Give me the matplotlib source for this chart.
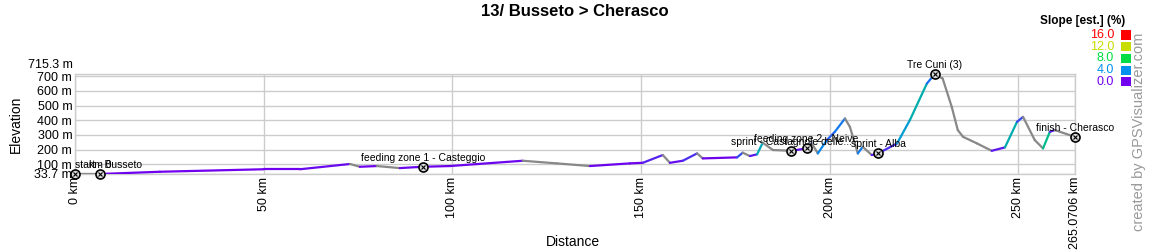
import matplotlib
matplotlib.use("Agg")
import matplotlib.pyplot as plt
from matplotlib.collections import LineCollection
from matplotlib.colors import LinearSegmentedColormap
from matplotlib.patches import Rectangle
import matplotlib.transforms as mtransforms
import numpy as np

plt.rcParams["font.family"] = ["Liberation Sans", "DejaVu Sans"]

# ---------- Data ----------
dist_km = [0, 6.6, 22.5, 50, 59.6, 72.9, 75.5, 80, 86.1, 92.2, 99.4, 118.7,
           127.7, 136.5, 147.1, 150.5, 155.8, 157.7, 161.1, 164.9, 166.4,
           175.5, 177, 178.9, 180.8, 182.3, 185, 189.9, 193.9, 195.3, 196.9,
           199.3, 201.4, 204.1, 205.4, 207.5, 208.8, 211.2, 212.9, 217.9,
           221.3, 225.8, 227.9, 230, 232.4, 234, 235.4, 239.1, 243, 246.5,
           249.7, 251.3, 254.4, 256.6, 258.4, 259.7, 265.0706]
elev_m = [34, 33.7, 49, 66, 66, 102, 83, 88, 74, 83, 88, 124,
          106, 88, 106, 110, 163, 110, 124, 174, 140,
          147, 179, 156, 168, 247, 197, 192, 208, 242, 174,
          265, 321, 412, 355, 174, 219, 163, 174, 242,
          401, 650, 715.3, 684, 491, 333, 287, 242, 192, 215,
          389, 423, 265, 208, 321, 333, 287]

wp_km = [0, 6.6, 92.2, 189.9, 193.9, 212.9, 227.9, 265.0706]
wp_elev = [34, 33.7, 83, 192, 208, 174, 715.3, 287]
wp_names = ["start - Busseto", "km 0", "feeding zone 1 - Casteggio",
            "sprint - Castagnole delle...", "feeding zone 2 - Neive",
            "sprint - Alba", "Tre Cuni (3)", "finish - Cherasco"]

x_ticks = [0, 50, 100, 150, 200, 250, 265.0706]
x_tick_labels = ["0 km", "50 km", "100 km", "150 km", "200 km", "250 km", "265.0706 km"]
y_ticks = [33.7, 100, 200, 300, 400, 500, 600, 700]
y_tick_labels = ["33.7 m", "100 m", "200 m", "300 m", "400 m", "500 m", "600 m", "700 m"]
y_max = 715.3

slope_levels = [16.0, 12.0, 8.0, 4.0, 0.0]
slope_colors = ["#ff0000", "#c8dc00", "#00dd44", "#0090ee", "#7000ee"]

# ---------- Figure ----------
fig = plt.figure(figsize=(11.5, 2.5), dpi=100)
ax = fig.add_axes([75 / 1150, 1 - 174 / 250, 1000 / 1150, 100 / 250])

# slope-coloured profile
x = np.array(dist_km)
y = np.array(elev_m)
slope = np.diff(y) / (np.diff(x) * 1000) * 100
cmap = LinearSegmentedColormap.from_list(
    "slope", list(zip(np.array(slope_levels[::-1]) / 16.0, slope_colors[::-1])))
seg_colors = [("#888888" if s < 0 else cmap(min(s, 16) / 16.0)) for s in slope]
pts = np.column_stack([x, y]).reshape(-1, 1, 2)
segs = np.concatenate([pts[:-1], pts[1:]], axis=1)
lc = LineCollection(segs, colors=seg_colors, linewidths=1.6, capstyle="round", zorder=3)
ax.add_collection(lc)

# waypoints
ax.plot(wp_km, wp_elev, "o", ms=6.5, mfc="#dddddd", mec="black", mew=1.2, zorder=5,
        clip_on=False)
ax.plot(wp_km, wp_elev, "x", ms=3.5, mec="black", mew=0.8, zorder=6, clip_on=False)
for i, (k, e, name) in enumerate(zip(wp_km, wp_elev, wp_names)):
    ha = "left" if i == 0 else "center"
    ax.annotate(name, (k, e), xytext=(0, 6.5), textcoords="offset points",
                ha=ha, va="center", fontsize=7.5, color="black", zorder=7,
                annotation_clip=False)

ax.set_xlim(0, x_ticks[-1])
ax.set_ylim(y_ticks[0], y_max)
ax.set_xticks(x_ticks)
ax.set_xticklabels(x_tick_labels, rotation=90, va="top", ha="center", fontsize=9)
ax.set_yticks(y_ticks)
ax.set_yticklabels(y_tick_labels, fontsize=9)
ax.tick_params(length=0, pad=2)
ax.grid(True, color="#cccccc", linewidth=1)
ax.set_axisbelow(True)
for sp in ax.spines.values():
    sp.set_color("#cccccc")
    sp.set_linewidth(1)

# top elevation label, nudged up like the reference
off = mtransforms.offset_copy(ax.get_yaxis_transform(), fig=fig, x=-2, y=9, units="dots")
ax.text(0, y_max, f"{y_max} m", transform=off, ha="right", va="center", fontsize=9)

ax.set_ylabel("Elevation", fontsize=10)
ax.yaxis.set_label_coords(-0.052, 0.5)
fig.text(573 / 1150, 1 - 242 / 250, "Distance", ha="center", va="center", fontsize=10)

fig.suptitle("13/ Busseto > Cherasco", x=0.5, y=1 - 12 / 250, va="center",
             fontsize=12, fontweight="bold")

# slope legend
fig.text(1083 / 1150, 1 - 21 / 250, "Slope [est.] (%)", ha="center", va="center",
         fontsize=8.5, fontweight="bold")
for j, (lv, c) in enumerate(zip(slope_levels, slope_colors)):
    yc = 35 + j * 11.7
    fig.text(1114 / 1150, 1 - yc / 250, f"{lv:.1f}", ha="right", va="center",
             fontsize=9, color=c)
    fig.patches.append(Rectangle((1121 / 1150, 1 - (yc + 4.5) / 250), 10 / 1150, 9 / 250,
                                 transform=fig.transFigure, facecolor=c, edgecolor="none"))

fig.text(1139 / 1150, 1 - 132 / 250, "created by GPSVisualizer.com", rotation=90,
         ha="center", va="center", fontsize=10.5, color="#999999")

fig.savefig("out.png", dpi=100)
